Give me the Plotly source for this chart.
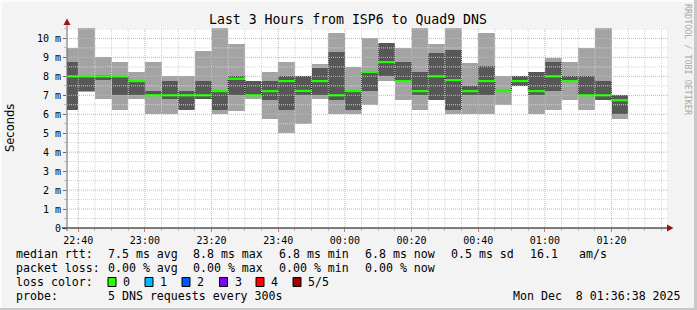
import plotly.graph_objects as go
import pandas as pd

# ---------------- data ----------------
title = "Last 3 Hours from ISP6 to Quad9 DNS"
range_start = "2025-12-07 22:36:38"
range_end = "2025-12-08 01:36:38"
first_sample_end = "2025-12-07 22:40:00"

# sorted ping values per 5-minute sample (seconds * 1000 -> ms shown as "m")
p_min = [6.2, 7.2, 6.8, 6.2, 6.78, 6.0, 6.0, 6.25, 6.8, 6.0,
         6.18, 6.8, 5.74, 5.0, 5.47, 6.78, 6.0, 6.0, 6.47, 7.75,
         6.74, 6.22, 6.74, 6.0, 6.0, 6.0, 6.47, 7.5, 6.0, 6.23,
         6.74, 6.23, 6.74, 5.74]
p_lo = [6.2, 7.25, 7.8, 7.0, 7.0, 7.0, 6.8, 6.25, 6.8, 6.25,
        7.0, 7.0, 6.75, 6.2, 7.0, 7.0, 6.75, 6.25, 7.23, 8.0,
        7.7, 7.0, 6.74, 6.22, 7.0, 7.0, 7.2, 7.5, 7.0, 7.23,
        7.7, 7.0, 6.74, 6.0]
p_med = [8.0, 8.0, 8.0, 8.0, 7.75, 7.0, 7.0, 7.0, 7.0, 7.22,
         7.87, 7.0, 7.22, 7.75, 7.23, 7.75, 7.0, 7.22, 8.23, 8.75,
         7.75, 7.22, 8.0, 7.8, 7.22, 7.75, 7.22, 7.75, 7.22, 8.0,
         7.75, 7.0, 7.0, 6.74]
p_hi = [8.75, 8.0, 8.05, 8.0, 7.8, 7.23, 7.75, 7.23, 7.75, 7.3,
        8.0, 7.75, 7.74, 8.0, 8.0, 8.42, 9.27, 7.25, 8.3, 9.75,
        8.75, 8.23, 9.22, 9.37, 7.47, 8.53, 7.3, 8.0, 8.23, 8.75,
        8.0, 8.0, 7.75, 7.0]
p_max = [9.5, 10.6, 9.0, 8.75, 8.23, 8.75, 8.0, 8.0, 9.33, 10.6,
         9.7, 7.75, 8.23, 8.75, 8.0, 8.63, 10.27, 8.49, 10.0, 9.75,
         9.49, 10.6, 9.7, 10.6, 8.68, 10.27, 8.0, 8.0, 8.23, 8.98,
         8.75, 9.49, 10.6, 7.0]

y_tick_vals = [0, 1, 2, 3, 4, 5, 6, 7, 8, 9, 10]
y_tick_text = ["0", "1 m", "2 m", "3 m", "4 m", "5 m", "6 m", "7 m", "8 m", "9 m", "10 m"]

rtt_label = "median rtt:"
rtt_stats = ["7.5 ms avg", "8.8 ms max", "6.8 ms min", "6.8 ms now", "0.5 ms sd", "16.1", "am/s"]
loss_label = "packet loss:"
loss_stats = ["0.00 % avg", "0.00 % max", "0.00 % min", "0.00 % now"]
color_label = "loss color:"
loss_names = ["0", "1", "2", "3", "4", "5/5"]
loss_colors = ["#26ff00", "#00b8ff", "#0059ff", "#7e00ff", "#ff0000", "#a10000"]
probe_label = "probe:"
probe_text = "5 DNS requests every 300s"
stamp_text = "Mon Dec  8 01:36:38 2025"
watermark = "RRDTOOL / TOBI OETIKER"

# ---------------- layout constants ----------------
W, H = 697, 310
L, R, T, B = 67, 30, 28, 82
PW, PH = W - L - R, H - T - B
Y_MAX = 10.55
MONO = "DejaVu Sans Mono"


def px(x):
    return (x - L) / PW


def py(y):
    return (T + PH - y) / PH


step = pd.Timedelta(minutes=5)
ends = pd.date_range(first_sample_end, periods=len(p_med), freq="5min")
starts = ends - step
centers = ends - step / 2
ends_l = [t.to_pydatetime() for t in ends]
starts_l = [t.to_pydatetime() for t in starts]
centers_l = [t.to_pydatetime() for t in centers]

fig = go.Figure()

# outer smoke (min..max)
fig.add_bar(x=centers_l, base=p_min, y=[b - a for a, b in zip(p_min, p_max)],
            width=300000, marker=dict(color="#a3a3a3", line=dict(width=0)),
            hoverinfo="skip", showlegend=False)
# inner smoke
fig.add_bar(x=centers_l, base=p_lo, y=[b - a for a, b in zip(p_lo, p_hi)],
            width=300000, marker=dict(color="#575757", line=dict(width=0)),
            hoverinfo="skip", showlegend=False)

# median connectors (black dotted steps)
fig.add_scatter(x=starts_l + [ends_l[-1]], y=p_med + [p_med[-1]], mode="lines",
                line=dict(shape="hv", color="#000000", width=1, dash="1px,1px"),
                hoverinfo="skip", showlegend=False)
# median segments (green)
gx, gy = [], []
for s, e, m in zip(starts_l, ends_l, p_med):
    gx += [s, e, None]
    gy += [m, m, None]
fig.add_scatter(x=gx, y=gy, mode="lines", line=dict(color="#20ff00", width=2.2),
                hoverinfo="skip", showlegend=False)

shapes = []
# grid (drawn above smoke like rrdtool)
t = pd.Timestamp("2025-12-07 22:40:00")
t_end = pd.Timestamp(range_end)
while t <= t_end:
    major = (t.minute % 20 == 0)
    shapes.append(dict(type="line", xref="x", yref="paper", x0=t.to_pydatetime(), x1=t.to_pydatetime(),
                       y0=0, y1=1, layer="above",
                       line=dict(color="#efa3a3" if major else "#d2d2d2", width=1, dash="1px,1px")))
    t += step
v = 0.5
while v <= 10.5 + 1e-9:
    major = abs(v - round(v)) < 1e-9
    shapes.append(dict(type="line", xref="paper", yref="y", x0=0, x1=px(668), y0=v, y1=v, layer="above",
                       line=dict(color="#efa3a3" if major else "#d2d2d2", width=1, dash="1px,1px")))
    v += 0.5

# axes lines and arrows
shapes.append(dict(type="line", xref="paper", yref="paper", x0=px(62), x1=px(669), y0=py(228), y1=py(228),
                   layer="above", line=dict(color="#000000", width=1)))
shapes.append(dict(type="line", xref="paper", yref="paper", x0=px(67), x1=px(67), y0=py(231), y1=py(22),
                   layer="above", line=dict(color="#666666", width=1)))
shapes.append(dict(type="path", xref="paper", yref="paper", layer="above",
                   path=f"M {px(667)} {py(224.5)} L {px(673.5)} {py(228)} L {px(667)} {py(231.5)} Z",
                   fillcolor="#a01010", line=dict(width=0)))
shapes.append(dict(type="path", xref="paper", yref="paper", layer="above",
                   path=f"M {px(63.5)} {py(25)} L {px(67)} {py(18.5)} L {px(70.5)} {py(25)} Z",
                   fillcolor="#a01010", line=dict(width=0)))

# 3D-ish border of the canvas
shapes.append(dict(type="rect", xref="paper", yref="paper", x0=px(0), x1=px(W), y0=py(H - 2), y1=py(H),
                   fillcolor="#c8c8c8", line=dict(width=0), layer="above"))
shapes.append(dict(type="rect", xref="paper", yref="paper", x0=px(W - 3), x1=px(W), y0=py(H), y1=py(0),
                   fillcolor="#c8c8c8", line=dict(width=0), layer="above"))
shapes.append(dict(type="rect", xref="paper", yref="paper", x0=px(0), x1=px(W - 3), y0=py(2), y1=py(0),
                   fillcolor="#fbfbfb", line=dict(width=0), layer="above"))
shapes.append(dict(type="rect", xref="paper", yref="paper", x0=px(0), x1=px(2), y0=py(H - 2), y1=py(0),
                   fillcolor="#fbfbfb", line=dict(width=0), layer="above"))

# legend colour boxes
box_x = [108, 145, 182, 219.5, 256, 293]
for bx, c in zip(box_x, loss_colors):
    shapes.append(dict(type="rect", xref="paper", yref="paper", x0=px(bx), x1=px(bx + 8),
                       y0=py(286.5), y1=py(277.5), fillcolor=c,
                       line=dict(color="#000000", width=1), layer="above"))

ann = []


def text(x, y, s, size=11.6, anchor="left", color="#000000", family=MONO, angle=0, yanchor="middle"):
    ann.append(dict(x=px(x), y=py(y), xref="paper", yref="paper", text=s, showarrow=False,
                    xanchor=anchor, yanchor=yanchor, textangle=angle,
                    font=dict(family=family, size=size, color=color), borderpad=0, borderwidth=0))


text(347.5, 19, title, size=13.2, anchor="center")
text(10, 128, "Seconds", size=11.5, anchor="center", family="DejaVu Sans", angle=-90)
text(688, 60, watermark, size=8.4, anchor="center", color="#a8a8a8", angle=90)

rtt_x = [107.5, 193, 279, 365, 451, 530, 579]
loss_x = [107.5, 193, 279, 365]
text(16, 254, rtt_label)
for x, s in zip(rtt_x, rtt_stats):
    text(x, 254, s)
text(16, 268, loss_label)
for x, s in zip(loss_x, loss_stats):
    text(x, 268, s)
text(16, 282, color_label)
for bx, s in zip(box_x, loss_names):
    text(bx + 15, 282, s)
text(16, 296, probe_label)
text(107.5, 296, probe_text)
text(681, 296, stamp_text, anchor="right")

fig.update_layout(
    width=W, height=H, autosize=False,
    margin=dict(l=L, r=R, t=T, b=B, pad=0),
    paper_bgcolor="#f3f3f3", plot_bgcolor="#ffffff",
    barmode="overlay", bargap=0,
    shapes=shapes, annotations=ann,
    xaxis=dict(type="date", range=[range_start, range_end], showgrid=False, zeroline=False,
               showline=False, tick0="2025-12-07 22:40:00", dtick=1200000, tickformat="%H:%M",
               ticks="outside", ticklen=3, tickcolor="#e07070",
               tickfont=dict(family=MONO, size=10, color="#000000"),
               minor=dict(dtick=300000, ticks="outside", ticklen=2, tickcolor="#bbbbbb", showgrid=False)),
    yaxis=dict(range=[0, Y_MAX], showgrid=False, zeroline=False, showline=False,
               tickvals=y_tick_vals, ticktext=y_tick_text,
               ticks="outside", ticklen=3, tickcolor="#666666",
               tickfont=dict(family=MONO, size=10, color="#000000"),
               minor=dict(dtick=0.5, ticks="outside", ticklen=2, tickcolor="#bbbbbb", showgrid=False)),
    showlegend=False,
)

fig.write_html("out.html")
